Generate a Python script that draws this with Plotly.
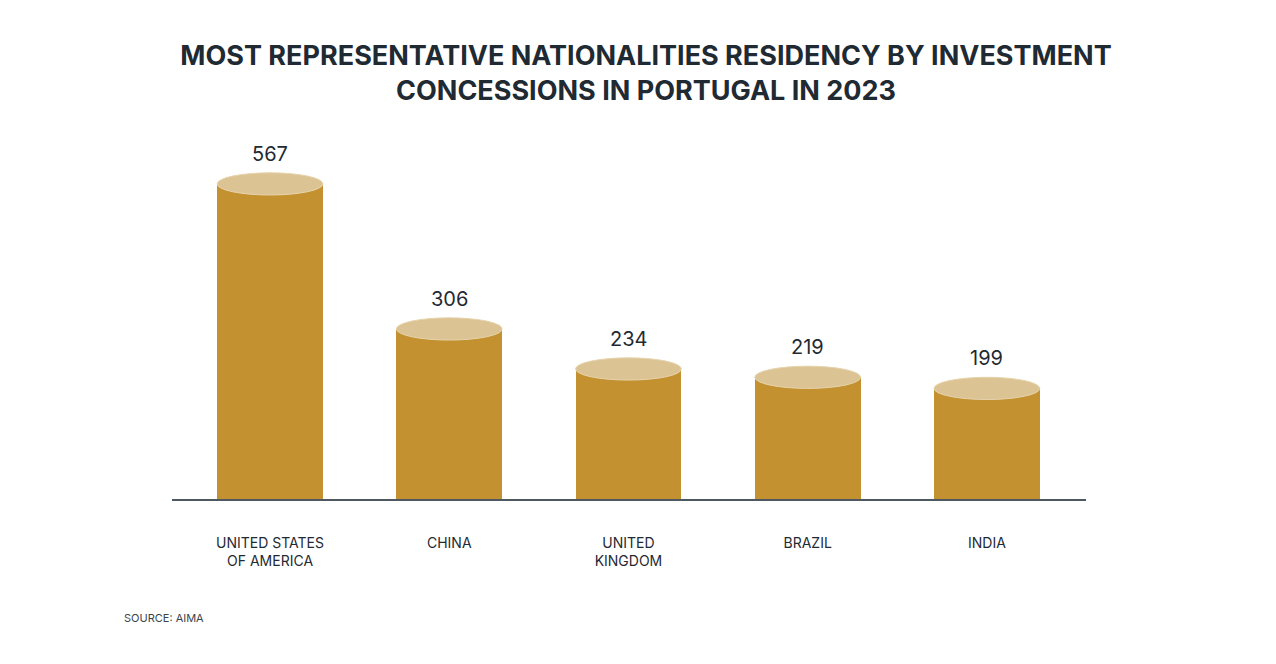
import plotly.graph_objects as go

countries = ["UNITED STATES<br>OF AMERICA", "CHINA", "UNITED<br>KINGDOM", "BRAZIL", "INDIA"]
concessions = [567, 306, 234, 219, 199]

BODY = "#c3912f"
TOP = "#dbc394"
INK = "#1f2a33"
bar_w = 0.59
cap = 20  # half height of the top ellipse, in data units

x = list(range(len(countries)))

fig = go.Figure()
fig.add_trace(go.Bar(x=x, y=concessions, width=bar_w, marker_color=BODY,
                     marker_line_width=0, hoverinfo="skip"))

# elliptical caps on top of each bar to make them look like cylinders
for i, v in zip(x, concessions):
    fig.add_shape(type="circle", xref="x", yref="y",
                  x0=i - bar_w / 2, x1=i + bar_w / 2, y0=v - cap, y1=v + cap,
                  fillcolor=TOP, line=dict(color="#e6d3ab", width=1))
    fig.add_annotation(x=i, y=v, text=str(v), showarrow=False, yanchor="bottom",
                       yshift=16, font=dict(family="Inter", size=20, color=INK))

# the page body adds an 8px offset, margins account for it
L, R, T, B = 164, 198, 142, 173
plot_w = 1276 - L - R
plot_h = 664 - T - B

fig.update_layout(
    width=1276, height=664,
    paper_bgcolor="white", plot_bgcolor="white",
    margin=dict(l=L, r=R, t=T, b=B),
    showlegend=False,
    title=dict(text="MOST REPRESENTATIVE NATIONALITIES RESIDENCY BY INVESTMENT<br>CONCESSIONS IN PORTUGAL IN 2023",
               x=0.5, xanchor="center", y=0.914, yanchor="top",
               font=dict(family="Inter", size=27, color=INK, weight="bold")),
    bargap=0,
)
fig.update_xaxes(range=[-0.547, 4.553], tickvals=x, ticktext=countries,
                 showline=True, linecolor="#4f5860", linewidth=2,
                 showgrid=False, zeroline=False, ticks="", ticklabelstandoff=30,
                 tickfont=dict(family="Inter", size=14, color=INK))
fig.update_yaxes(range=[0, 628], visible=False, showgrid=False)

fig.add_annotation(x=(122 - 172) / plot_w, y=(499 - 618) / plot_h,
                   xref="paper", yref="paper", text="SOURCE: AIMA",
                   showarrow=False, xanchor="left", yanchor="middle",
                   font=dict(family="Inter", size=11, color="#3a444c"))

fig.write_html("out.html")
